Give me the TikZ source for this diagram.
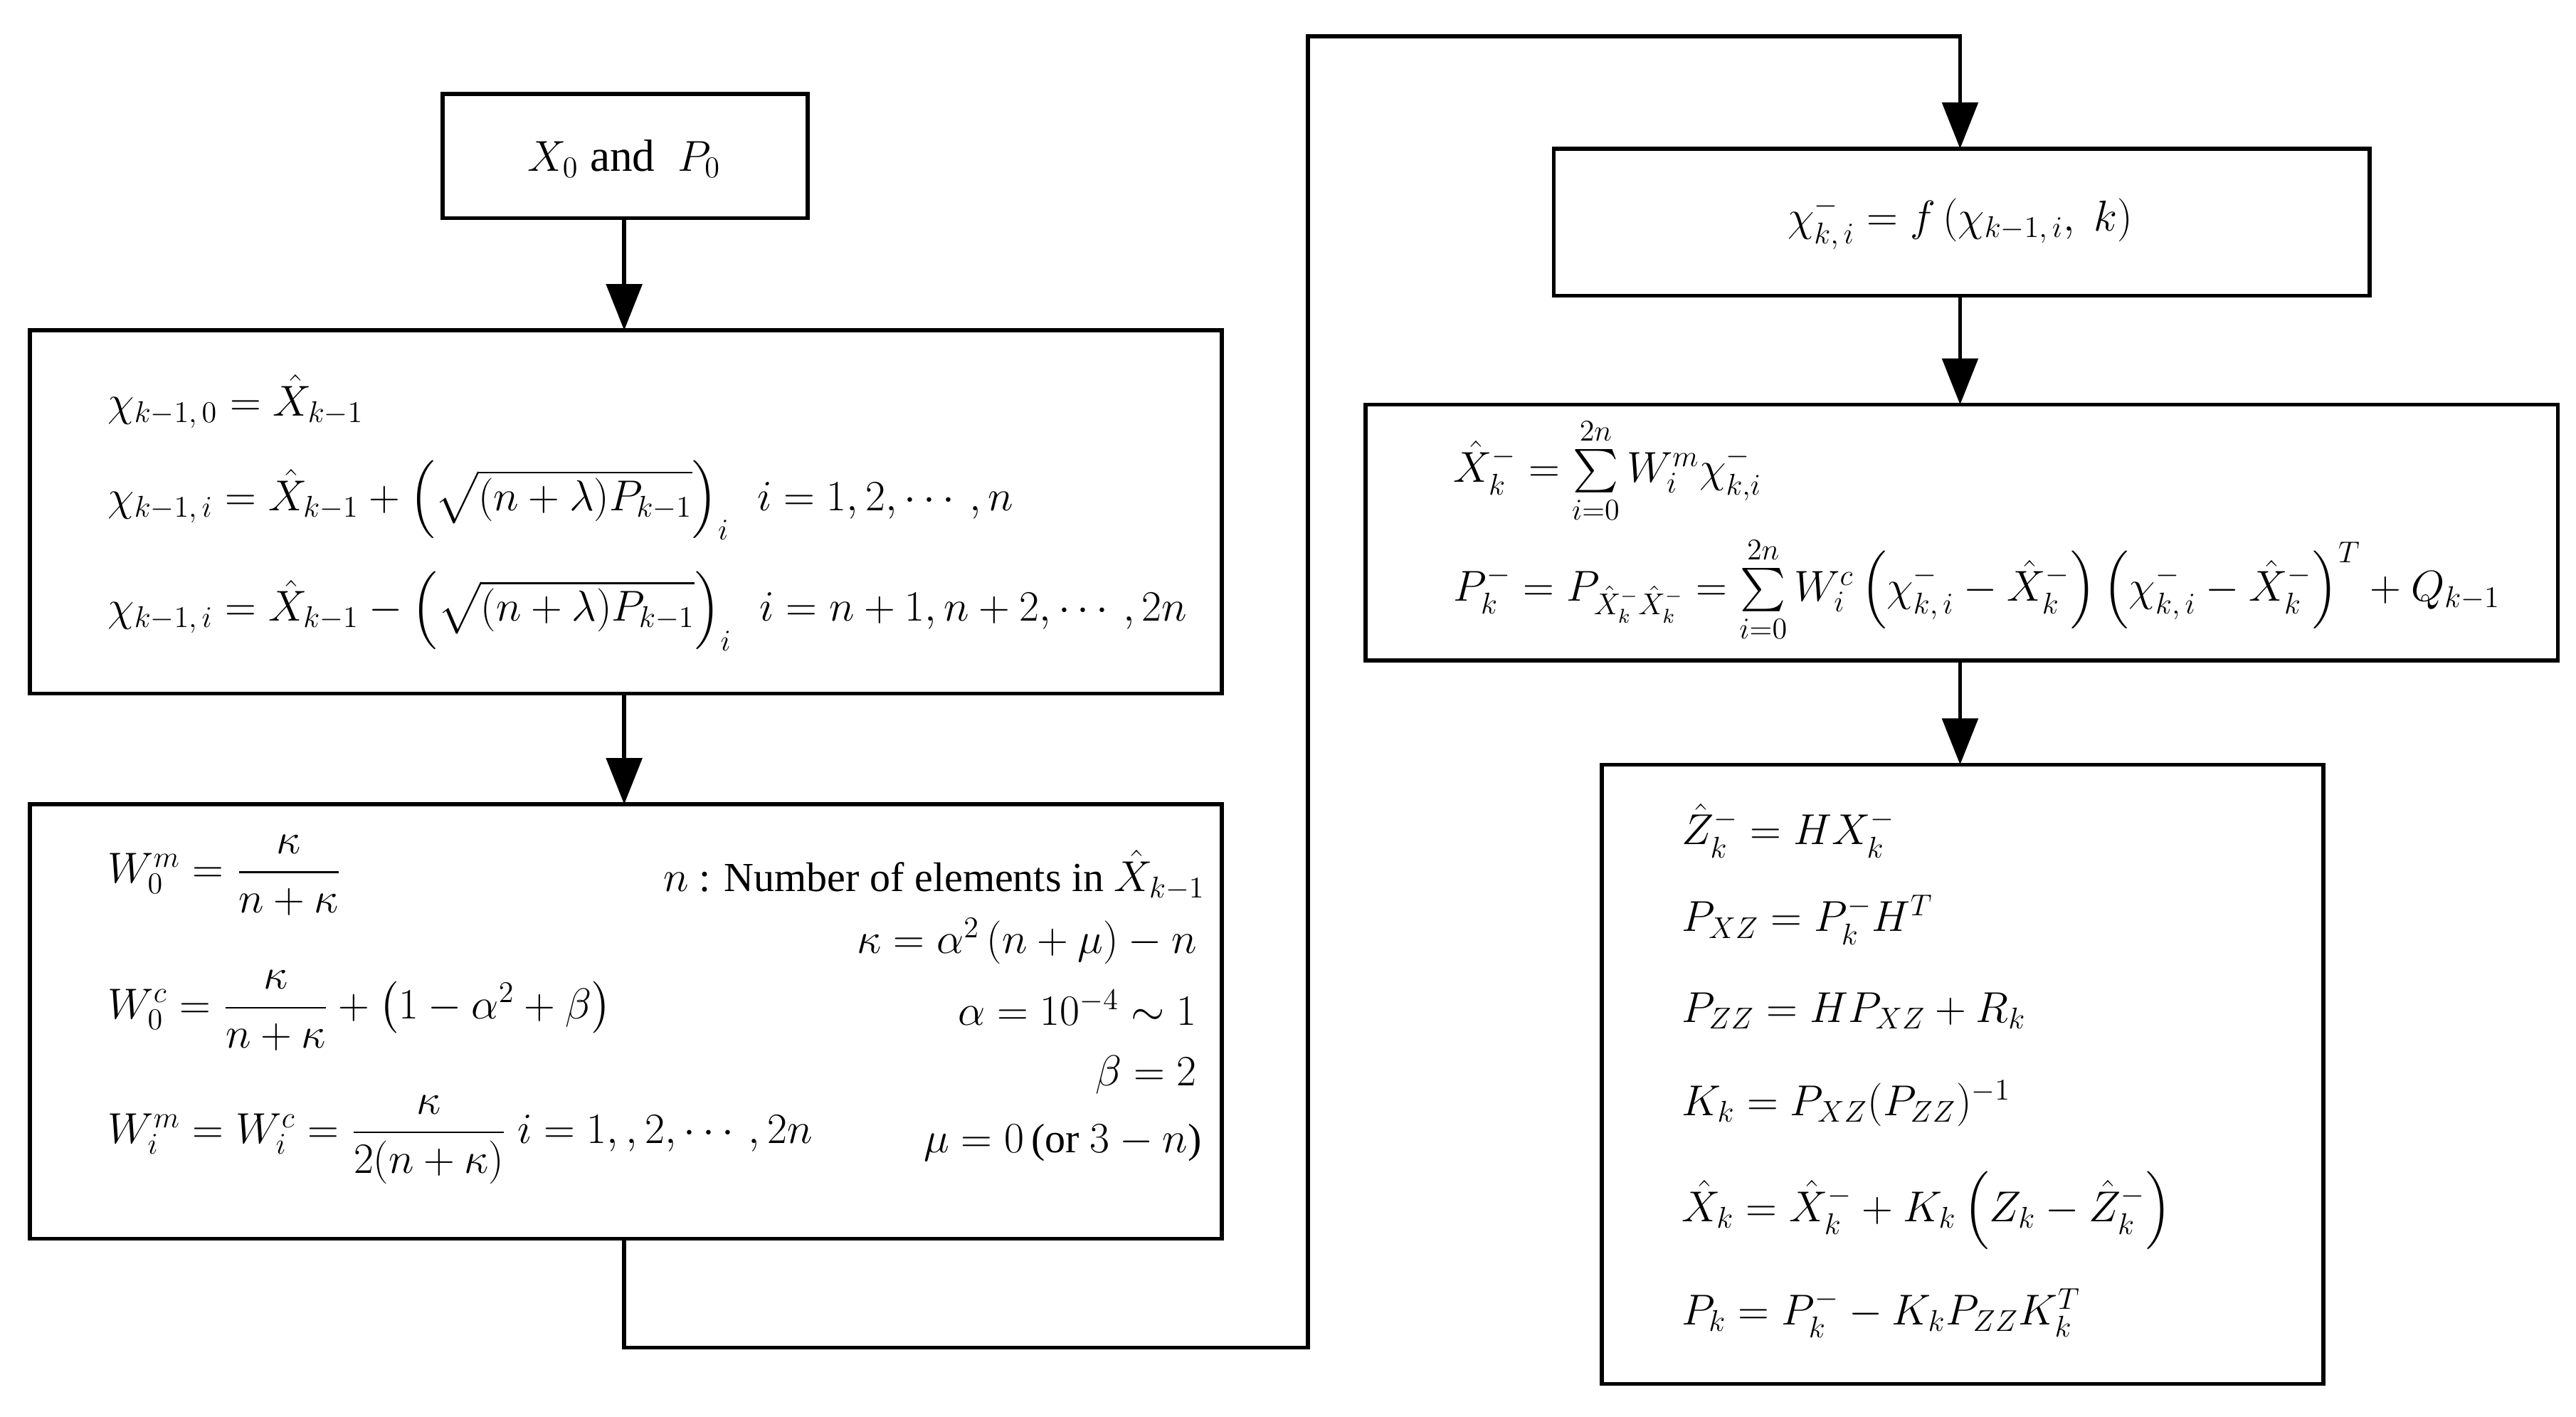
\documentclass[tikz,border=0pt]{standalone}
\usepackage{amsmath}
\usepackage{fontspec}
\setmainfont{Liberation Serif}
\usetikzlibrary{arrows.meta}
\begin{document}
\begin{tikzpicture}[x=0.0232cm,y=-0.0232cm,
  box/.style={draw,line width=1.6pt},
  arr/.style={line width=1.6pt,-{Triangle[length=0.65cm,width=0.5cm]}},
  eq/.style={anchor=west,inner sep=0pt,font=\fontsize{16.5}{20}\selectfont},
  eqr/.style={anchor=east,inner sep=0pt,font=\fontsize{16.5}{20}\selectfont}]
\useasboundingbox (0,0) rectangle (1560,857.6);
% boxes
\draw[box] (268,57) rectangle (489,132);
\draw[box] (18,200) rectangle (740,420);
\draw[box] (18,487) rectangle (740,750);
\draw[box] (941,90) rectangle (1435,179);
\draw[box] (827,245) rectangle (1549,400);
\draw[box] (970,463) rectangle (1407,838);
\coordinate (b1s) at (378,132); \coordinate (b2n) at (378,200);
\coordinate (b2s) at (378,420); \coordinate (b3n) at (378,487);
\coordinate (b3s) at (378,750); \coordinate (c1) at (378,816);
\coordinate (c2) at (792,816); \coordinate (c3) at (792,22); \coordinate (c4) at (1187,22);
\coordinate (b4n) at (1187,90); \coordinate (b4s) at (1187,179);
\coordinate (b5n) at (1187,245); \coordinate (b5s) at (1187,400);
\coordinate (b6n) at (1187,463);
\draw[arr] (b1s) -- (b2n);
\draw[arr] (b2s) -- (b3n);
\draw[arr] (b3s) -- (c1) -- (c2) -- (c3) -- (c4) -- (b4n);
\draw[arr] (b4s) -- (b5n);
\draw[arr] (b5s) -- (b6n);
% box 1
\node[font=\fontsize{18}{22}\selectfont] (t1) at (378,96) {$X_0$ and\ \ $P_0$};
% box 2
\node[eq] (e21) at (65,243) {$\chi_{k-1,\,0}=\hat X_{k-1}$};
\node[eq] (e22) at (65,303) {$\chi_{k-1,\,i}=\hat X_{k-1}+\left(\sqrt{(n+\lambda)P_{k-1}}\right)_i\ \ i=1,2,\cdots,n$};
\node[eq] (e23) at (65,370) {$\chi_{k-1,\,i}=\hat X_{k-1}-\left(\sqrt{(n+\lambda)P_{k-1}}\right)_i\ \ i=n+1,n+2,\cdots,2n$};
% box 3
\node[eq] (e31) at (65,530) {$W_0^m=\dfrac{\kappa}{n+\kappa}$};
\node[eq] (e32) at (65,612) {$W_0^c=\dfrac{\kappa}{n+\kappa}+\left(1-\alpha^2+\beta\right)$};
\node[eq] (e33) at (65,690) {$W_i^m=W_i^c=\dfrac{\kappa}{2(n+\kappa)}\ i=1,,2,\cdots,2n$};
\node[eqr] (r1) at (730,530) {$n$ : Number of elements in $\hat X_{k-1}$};
\node[eqr] (r2) at (725,570) {$\kappa=\alpha^2\left(n+\mu\right)-n$};
\node[eqr] (r3) at (725,610) {$\alpha=10^{-4}\sim1$};
\node[eqr] (r4) at (725,651) {$\beta=2$};
\node[eqr] (r5) at (728,692) {$\mu=0\,$(or $3-n$)};
% box 4
\node[font=\fontsize{18}{22}\selectfont] (e4) at (1187,135) {$\chi^-_{k,\,i}=f\left(\chi_{k-1,\,i},\ k\right)$};
% box 5
\node[eq] (e51) at (880,285) {$\hat X_k^-=\sum\limits_{i=0}^{2n}W_i^m\chi^-_{k,i}$};
\node[eq] (e52) at (880,357) {$P_k^-=P_{\hat X_k^-\hat X_k^-}=\sum\limits_{i=0}^{2n}W_i^c\left(\chi^-_{k,\,i}-\hat X_k^-\right)\left(\chi^-_{k,\,i}-\hat X_k^-\right)^T+Q_{k-1}$};
% box 6
\node[eq] (e61) at (1018,503) {$\hat Z_k^-=HX_k^-$};
\node[eq] (e62) at (1018,557) {$P_{XZ}=P_k^-H^T$};
\node[eq] (e63) at (1018,612) {$P_{ZZ}=HP_{XZ}+R_k$};
\node[eq] (e64) at (1018,668) {$K_k=P_{XZ}(P_{ZZ})^{-1}$};
\node[eq] (e65) at (1018,733) {$\hat X_k=\hat X_k^-+K_k\left(Z_k-\hat Z_k^-\right)$};
\node[eq] (e66) at (1018,795) {$P_k=P_k^--K_kP_{ZZ}K_k^T$};
\end{tikzpicture}
\end{document}
